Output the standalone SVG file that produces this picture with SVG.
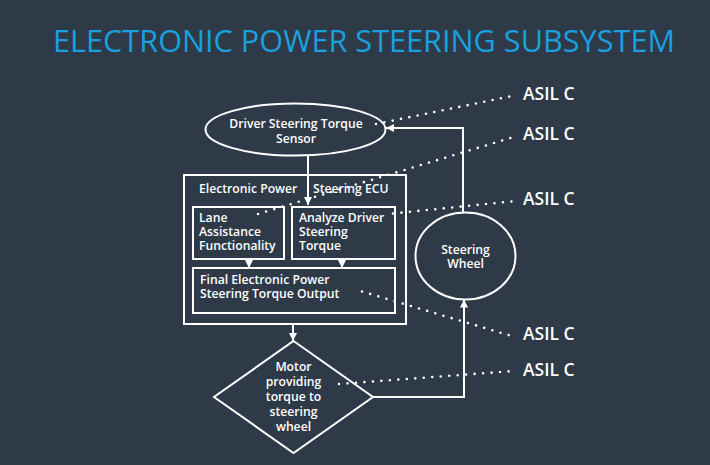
<svg xmlns="http://www.w3.org/2000/svg" width="710" height="465" viewBox="0 0 710 465">
<style>
.bg{fill:#2e3a48}
.title{font-family:"Open Sans","Liberation Sans",sans-serif;font-size:31px;fill:#1a9fdf;font-weight:400}
.t{font-family:"Open Sans","Liberation Sans",sans-serif;font-size:12.2px;fill:#ffffff;font-weight:600}
.asil{font-family:"Open Sans","Liberation Sans",sans-serif;font-size:17.5px;fill:#ffffff;font-weight:600}
.shape{fill:none;stroke:#ffffff;stroke-width:2}
.line{fill:none;stroke:#ffffff;stroke-width:2}
.dot{fill:none;stroke:#ffffff;stroke-width:2.6;stroke-linecap:round;stroke-dasharray:0 8.5}
</style>
<defs>
<marker id="ah" viewBox="0 0 10 10" refX="10" refY="5" markerWidth="8" markerHeight="8" orient="auto" markerUnits="userSpaceOnUse">
<path d="M0,0 L10,5 L0,10 z" fill="#ffffff"/>
</marker>
</defs>
<rect class="bg" x="0" y="0" width="710" height="465"/>
<text class="title" x="53" y="52" textLength="622" lengthAdjust="spacingAndGlyphs">ELECTRONIC POWER STEERING SUBSYSTEM</text>

<g id="sensor">
<ellipse class="shape" cx="295.5" cy="129.5" rx="90" ry="26"/>
<text class="t" x="296" y="128" text-anchor="middle">Driver Steering Torque</text>
<text class="t" x="296" y="143" text-anchor="middle">Sensor</text>
</g>

<g id="ecu">
<rect class="shape" x="184" y="175" width="222" height="149"/>
<text class="t" x="199" y="193">Electronic Power</text>
<text class="t" x="313" y="193">Steering ECU</text>
</g>

<g id="lane">
<rect class="shape" x="193" y="207" width="91" height="52"/>
<text class="t" x="199" y="222">Lane</text>
<text class="t" x="199" y="236">Assistance</text>
<text class="t" x="199" y="250">Functionality</text>
</g>

<g id="analyze">
<rect class="shape" x="292" y="207" width="103" height="52"/>
<text class="t" x="299" y="222">Analyze Driver</text>
<text class="t" x="299" y="236">Steering</text>
<text class="t" x="299" y="250">Torque</text>
</g>

<g id="final">
<rect class="shape" x="193" y="268" width="202" height="45"/>
<text class="t" x="200" y="284">Final Electronic Power</text>
<text class="t" x="200" y="298">Steering Torque Output</text>
</g>

<g id="motor">
<polygon class="shape" points="293.5,341 373,397 293.5,453 214,397"/>
<text class="t" x="293.5" y="371" text-anchor="middle">Motor</text>
<text class="t" x="293.5" y="386" text-anchor="middle">providing</text>
<text class="t" x="293.5" y="401" text-anchor="middle">torque to</text>
<text class="t" x="293.5" y="416" text-anchor="middle">steering</text>
<text class="t" x="293.5" y="431" text-anchor="middle">wheel</text>
</g>

<g id="wheel">
<ellipse class="shape" cx="465.5" cy="256" rx="50" ry="43.5"/>
<text class="t" x="465.5" y="254" text-anchor="middle">Steering</text>
<text class="t" x="465.5" y="268" text-anchor="middle">Wheel</text>
</g>

<g id="asil">
<text class="asil" x="523" y="100">ASIL C</text>
<text class="asil" x="523" y="140">ASIL C</text>
<text class="asil" x="523" y="205">ASIL C</text>
<text class="asil" x="523" y="340">ASIL C</text>
<text class="asil" x="523" y="376">ASIL C</text>
</g>

<g id="connectors">
<line class="line" x1="308" y1="155.5" x2="308" y2="205" marker-end="url(#ah)"/>
<line class="line" x1="249" y1="259" x2="249" y2="268" marker-end="url(#ah)"/>
<line class="line" x1="342" y1="259" x2="342" y2="268" marker-end="url(#ah)"/>
<line class="line" x1="293" y1="324" x2="293" y2="341" marker-end="url(#ah)"/>
<polyline class="line" points="373,397 464,397 464,299.5" marker-end="url(#ah)"/>
<polyline class="line" points="463,212.5 463,128 386,128" marker-end="url(#ah)"/>
<line class="dot" x1="376" y1="124" x2="517" y2="95"/>
<line class="dot" x1="258" y1="214" x2="514" y2="137"/>
<line class="dot" x1="393" y1="213.5" x2="516" y2="201"/>
<line class="dot" x1="362" y1="291.5" x2="515" y2="337"/>
<line class="dot" x1="339" y1="384" x2="514" y2="371"/>
</g>
</svg>
